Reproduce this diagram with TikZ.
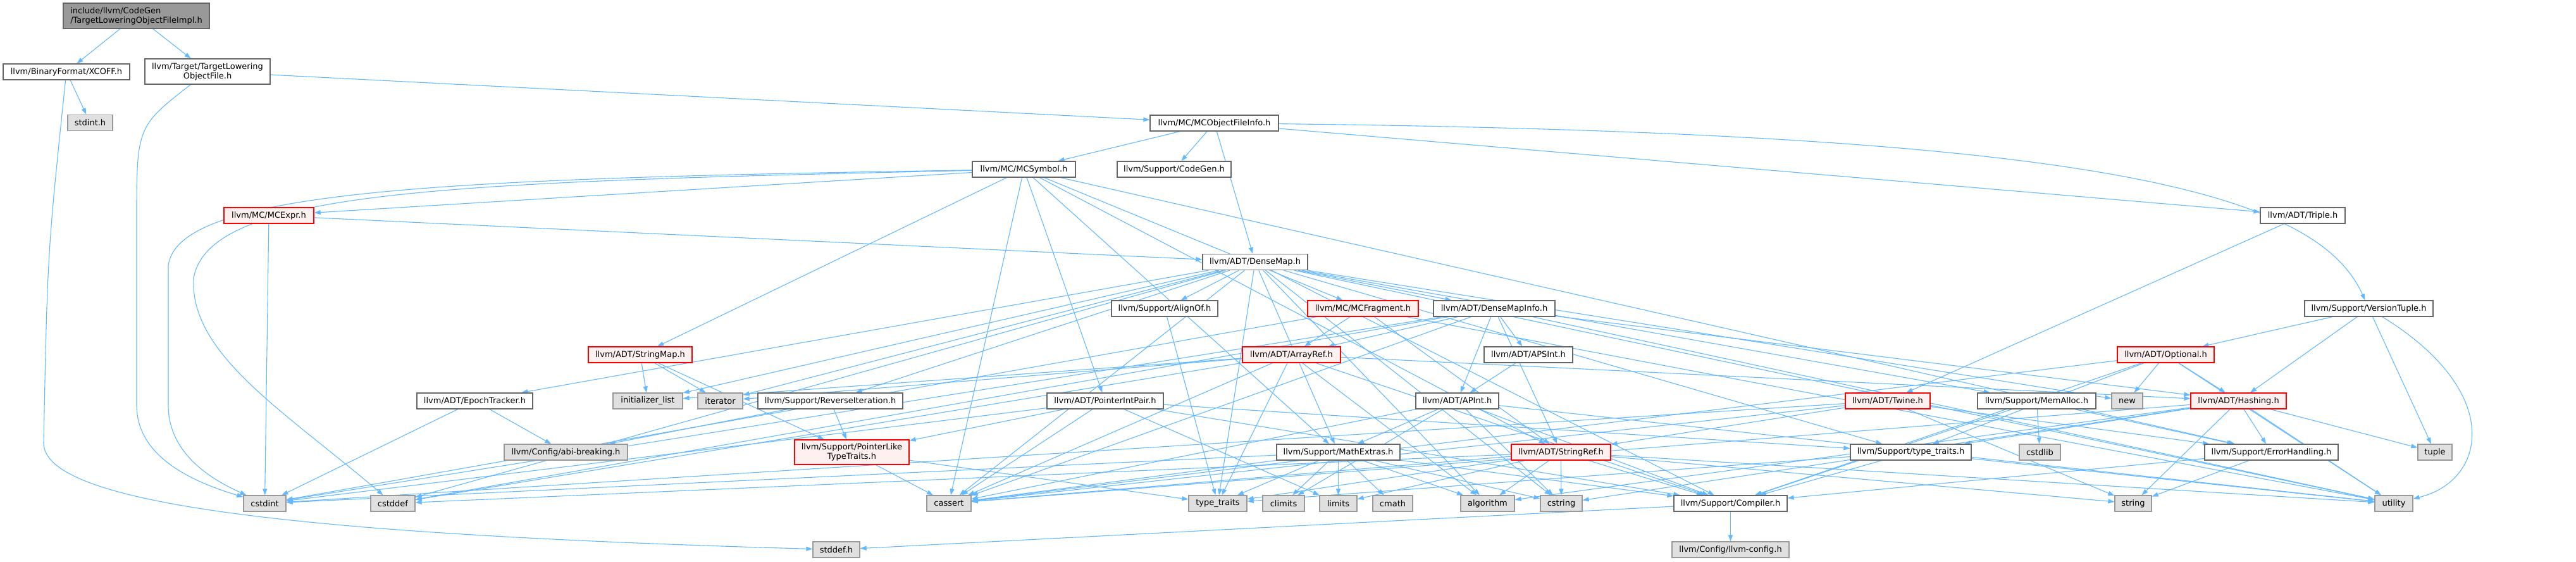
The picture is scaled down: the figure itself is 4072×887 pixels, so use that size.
\documentclass[tikz,border=0pt]{standalone}
\usepackage{fontspec}
\setmainfont{DejaVu Sans}
\usetikzlibrary{arrows.meta,backgrounds}
\definecolor{IncBlue}{RGB}{99,184,255}
\definecolor{BoxLine}{RGB}{102,102,102}
\definecolor{SysFill}{RGB}{224,224,224}
\definecolor{SysLine}{RGB}{153,153,153}
\definecolor{CutFill}{RGB}{255,240,240}
\definecolor{CutLine}{RGB}{255,0,0}
\definecolor{MainFill}{RGB}{153,153,153}
\tikzset{
  hdr/.style={draw=BoxLine,fill=white,line width=1.3pt,minimum height=25pt,inner sep=2pt,
    font=\fontsize{13}{15}\selectfont},
  sys/.style={hdr,draw=SysLine,fill=SysFill},
  cut/.style={hdr,draw=CutLine,fill=CutFill},
  mainhdr/.style={hdr,fill=MainFill,align=left,minimum height=40pt},
  dep/.style={draw=IncBlue,line width=1.1pt,-{Triangle[length=10pt,width=7pt]}},
}

\begin{document}
\begin{tikzpicture}[x=1pt,y=1pt]
\useasboundingbox (0,0) rectangle (4072,-887);
\node[mainhdr,minimum width=231pt] (root) at (215.5,-25) {include/llvm/CodeGen\\/TargetLoweringObjectFileImpl.h};
\node[hdr,minimum width=200pt] (xcoff) at (105,-113.5) {llvm/BinaryFormat/XCOFF.h};
\node[hdr,align=center,minimum width=198pt,minimum height=40pt] (tlof) at (328,-113) {llvm/Target/TargetLowering\\ObjectFile.h};
\node[sys,minimum width=71pt] (stdint) at (142.5,-194) {stdint.h};
\node[hdr,minimum width=203pt] (mcofi) at (1919.5,-194.5) {llvm/MC/MCObjectFileInfo.h};
\node[hdr,minimum width=163pt] (mcsym) at (1618.5,-267.5) {llvm/MC/MCSymbol.h};
\node[hdr,minimum width=180pt] (codegen) at (1856,-267.5) {llvm/Support/CodeGen.h};
\node[cut,minimum width=142pt] (mcexpr) at (425,-340.5) {llvm/MC/MCExpr.h};
\node[hdr,minimum width=134pt] (triple) at (3640,-340.5) {llvm/ADT/Triple.h};
\node[hdr,minimum width=166pt] (densemap) at (1984,-414) {llvm/ADT/DenseMap.h};
\node[hdr,minimum width=168pt] (alignof) at (1841,-487.5) {llvm/Support/AlignOf.h};
\node[cut,minimum width=175pt] (mcfrag) at (2154.5,-487.5) {llvm/MC/MCFragment.h};
\node[hdr,minimum width=192pt] (dmi) at (2362,-487.5) {llvm/ADT/DenseMapInfo.h};
\node[hdr,minimum width=203pt] (vtuple) at (3744.5,-487.5) {llvm/Support/VersionTuple.h};
\node[cut,minimum width=164pt] (stringmap) at (1012,-560.5) {llvm/ADT/StringMap.h};
\node[cut,minimum width=155pt] (arrayref) at (2041.5,-560.5) {llvm/ADT/ArrayRef.h};
\node[hdr,minimum width=140pt] (apsint) at (2416,-560.5) {llvm/ADT/APSInt.h};
\node[cut,minimum width=153pt] (optional) at (3423.5,-560.5) {llvm/ADT/Optional.h};
\node[hdr,minimum width=183pt] (epoch) at (750.5,-633.5) {llvm/ADT/EpochTracker.h};
\node[sys,minimum width=110pt] (initlist) at (1024,-633.5) {initializer\_list};
\node[sys,minimum width=71pt] (iterator) at (1138.5,-633.5) {iterator};
\node[hdr,minimum width=229pt] (reviter) at (1312.5,-633.5) {llvm/Support/ReverseIteration.h};
\node[hdr,minimum width=184pt] (ptrint) at (1747,-633.5) {llvm/ADT/PointerIntPair.h};
\node[hdr,minimum width=131pt] (apint) at (2303.5,-633.5) {llvm/ADT/APInt.h};
\node[cut,minimum width=134pt] (twine) at (2984,-633.5) {llvm/ADT/Twine.h};
\node[hdr,minimum width=187pt] (memalloc) at (3219.5,-633.5) {llvm/Support/MemAlloc.h};
\node[sys,minimum width=49pt] (new) at (3362.5,-633.5) {new};
\node[cut,minimum width=151pt] (hashing) at (3538.5,-633.5) {llvm/ADT/Hashing.h};
\node[sys,minimum width=195pt] (abi) at (894.5,-714.5) {llvm/Config/abi-breaking.h};
\node[cut,align=center,minimum width=181pt,minimum height=39pt] (pltt) at (1346.5,-714.5) {llvm/Support/PointerLike\\TypeTraits.h};
\node[hdr,minimum width=195pt] (mathx) at (2115.5,-714.5) {llvm/Support/MathExtras.h};
\node[cut,minimum width=157pt] (stringref) at (2467.5,-714.5) {llvm/ADT/StringRef.h};
\node[hdr,minimum width=191pt] (ltt) at (3020.5,-714.5) {llvm/Support/type\_traits.h};
\node[sys,minimum width=65pt] (cstdlib) at (3224.5,-714.5) {cstdlib};
\node[hdr,minimum width=211pt] (errh) at (3590.5,-714.5) {llvm/Support/ErrorHandling.h};
\node[sys,minimum width=54pt] (tuple) at (3849,-714.5) {tuple};
\node[sys,minimum width=67pt] (cstdint) at (418.5,-795.5) {cstdint};
\node[sys,minimum width=70pt] (cstddef) at (621,-795.5) {cstddef};
\node[sys,minimum width=70pt] (cassert) at (1500,-795.5) {cassert};
\node[sys,minimum width=92pt] (typetraits) at (1925,-795.5) {type\_traits};
\node[sys,minimum width=66pt] (climits) at (2029,-795.5) {climits};
\node[sys,minimum width=59pt] (limits) at (2115.5,-795.5) {limits};
\node[sys,minimum width=63pt] (cmath) at (2201.5,-795.5) {cmath};
\node[sys,minimum width=85pt] (algorithm) at (2351.5,-795.5) {algorithm};
\node[sys,minimum width=66pt] (cstring) at (2468,-795.5) {cstring};
\node[hdr,minimum width=179pt] (compiler) at (2735.5,-795.5) {llvm/Support/Compiler.h};
\node[sys,minimum width=58pt] (string) at (3372,-795.5) {string};
\node[sys,minimum width=60pt] (utility) at (3784,-795.5) {utility};
\node[sys,minimum width=74pt] (stddefh) at (1322,-868.5) {stddef.h};
\node[sys,minimum width=185pt] (llvmcfg) at (2735.5,-868.5) {llvm/Config/llvm-config.h};

\begin{scope}[on background layer]
\draw[dep] (root) -- (xcoff);
\draw[dep] (root) -- (tlof);
\draw[dep] (xcoff) -- (stdint);
\draw[dep] (xcoff) .. controls (75,-400) .. (69,-700) .. controls (69,-800) and (500,-845) .. (stddefh);
\draw[dep] (tlof) -- (mcofi);
\draw[dep] (tlof) .. controls (216,-200) .. (216,-350) -- (216,-640) .. controls (216,-720) and (300,-760) .. (cstdint);
\draw[dep] (mcofi) -- (mcsym);
\draw[dep] (mcofi) -- (codegen);
\draw[dep] (mcofi) -- (densemap);
\draw[dep] (mcofi) -- (triple);
\draw[dep] (mcofi) .. controls (3300,-210) and (3660,-300) .. (vtuple);
\draw[dep] (mcsym) -- (mcexpr);
\draw[dep] (mcsym) -- (mcfrag);
\draw[dep] (mcsym) -- (stringmap);
\draw[dep] (mcsym) -- (ptrint);
\draw[dep] (mcsym) -- (stringref);
\draw[dep] (mcsym) -- (errh);
\draw[dep] (mcsym) -- (mathx);
\draw[dep] (mcsym) -- (cassert);
\draw[dep] (mcsym) .. controls (700,-288) and (330,-300) .. (306,-440) .. controls (300,-560) and (450,-650) .. (cstddef);
\draw[dep] (mcsym) .. controls (700,-282) and (280,-300) .. (266,-420) -- (266,-640) .. controls (266,-720) and (340,-760) .. (cstdint);
\draw[dep] (mcexpr) -- (densemap);
\draw[dep] (mcexpr) -- (cstdint);
\draw[dep] (triple) -- (twine);
\draw[dep] (densemap) -- (dmi);
\draw[dep] (densemap) -- (epoch);
\draw[dep] (densemap) -- (alignof);
\draw[dep] (densemap) -- (compiler);
\draw[dep] (densemap) -- (mathx);
\draw[dep] (densemap) -- (memalloc);
\draw[dep] (densemap) -- (reviter);
\draw[dep] (densemap) -- (ltt);
\draw[dep] (densemap) -- (algorithm);
\draw[dep] (densemap) -- (cassert);
\draw[dep] (densemap) -- (cstddef);
\draw[dep] (densemap) -- (cstring);
\draw[dep] (densemap) -- (initlist);
\draw[dep] (densemap) -- (iterator);
\draw[dep] (densemap) -- (new);
\draw[dep] (densemap) -- (typetraits);
\draw[dep] (densemap) -- (utility);
\draw[dep] (alignof) -- (typetraits);
\draw[dep] (mcfrag) -- (arrayref);
\draw[dep] (mcfrag) -- (stringref);
\draw[dep] (mcfrag) -- (cstdint);
\draw[dep] (mcfrag) -- (utility);
\draw[dep] (dmi) -- (apint);
\draw[dep] (dmi) -- (apsint);
\draw[dep] (dmi) -- (arrayref);
\draw[dep] (dmi) -- (hashing);
\draw[dep] (dmi) -- (stringref);
\draw[dep] (dmi) -- (cassert);
\draw[dep] (dmi) -- (cstddef);
\draw[dep] (dmi) -- (cstdint);
\draw[dep] (dmi) -- (utility);
\draw[dep] (vtuple) -- (optional);
\draw[dep] (vtuple) -- (hashing);
\draw[dep] (vtuple) -- (tuple);
\draw[dep] (vtuple) .. controls (3960,-620) and (3930,-760) .. (utility);
\draw[dep] (stringmap) -- (initlist);
\draw[dep] (stringmap) -- (iterator);
\draw[dep] (stringmap) -- (pltt);
\draw[dep] (arrayref) -- (hashing);
\draw[dep] (arrayref) -- (compiler);
\draw[dep] (arrayref) -- (algorithm);
\draw[dep] (arrayref) -- (cassert);
\draw[dep] (arrayref) -- (cstddef);
\draw[dep] (arrayref) -- (initlist);
\draw[dep] (arrayref) -- (iterator);
\draw[dep] (arrayref) -- (typetraits);
\draw[dep] (apsint) -- (apint);
\draw[dep] (optional) -- (hashing);
\draw[dep] (optional) -- (compiler);
\draw[dep] (optional) -- (ltt);
\draw[dep] (optional) -- (cassert);
\draw[dep] (optional) -- (new);
\draw[dep] (optional) -- (utility);
\draw[dep] (epoch) -- (abi);
\draw[dep] (epoch) -- (cstdint);
\draw[dep] (reviter) -- (abi);
\draw[dep] (reviter) -- (pltt);
\draw[dep] (ptrint) -- (compiler);
\draw[dep] (ptrint) -- (pltt);
\draw[dep] (ptrint) -- (ltt);
\draw[dep] (ptrint) -- (cassert);
\draw[dep] (ptrint) -- (cstdint);
\draw[dep] (ptrint) -- (limits);
\draw[dep] (apint) -- (compiler);
\draw[dep] (apint) -- (mathx);
\draw[dep] (apint) -- (cassert);
\draw[dep] (apint) -- (climits);
\draw[dep] (apint) -- (cstring);
\draw[dep] (apint) -- (utility);
\draw[dep] (twine) -- (stringref);
\draw[dep] (twine) -- (errh);
\draw[dep] (twine) -- (cassert);
\draw[dep] (twine) -- (cstdint);
\draw[dep] (twine) -- (string);
\draw[dep] (memalloc) -- (compiler);
\draw[dep] (memalloc) -- (errh);
\draw[dep] (memalloc) -- (cstdlib);
\draw[dep] (hashing) -- (errh);
\draw[dep] (hashing) -- (ltt);
\draw[dep] (hashing) -- (algorithm);
\draw[dep] (hashing) -- (cassert);
\draw[dep] (hashing) -- (cstring);
\draw[dep] (hashing) -- (string);
\draw[dep] (hashing) -- (tuple);
\draw[dep] (hashing) -- (utility);
\draw[dep] (pltt) -- (cassert);
\draw[dep] (pltt) -- (typetraits);
\draw[dep] (mathx) -- (compiler);
\draw[dep] (mathx) -- (cassert);
\draw[dep] (mathx) -- (climits);
\draw[dep] (mathx) -- (cmath);
\draw[dep] (mathx) -- (cstdint);
\draw[dep] (mathx) -- (cstring);
\draw[dep] (mathx) -- (limits);
\draw[dep] (mathx) -- (typetraits);
\draw[dep] (mathx) -- (algorithm);
\draw[dep] (stringref) -- (compiler);
\draw[dep] (stringref) -- (algorithm);
\draw[dep] (stringref) -- (cassert);
\draw[dep] (stringref) -- (cstddef);
\draw[dep] (stringref) -- (cstring);
\draw[dep] (stringref) -- (limits);
\draw[dep] (stringref) -- (string);
\draw[dep] (stringref) -- (typetraits);
\draw[dep] (stringref) -- (utility);
\draw[dep] (ltt) -- (compiler);
\draw[dep] (ltt) -- (typetraits);
\draw[dep] (ltt) -- (utility);
\draw[dep] (errh) -- (compiler);
\draw[dep] (errh) -- (string);
\draw[dep] (compiler) -- (llvmcfg);
\draw[dep] (compiler) -- (stddefh);
\end{scope}
\end{tikzpicture}
\end{document}
